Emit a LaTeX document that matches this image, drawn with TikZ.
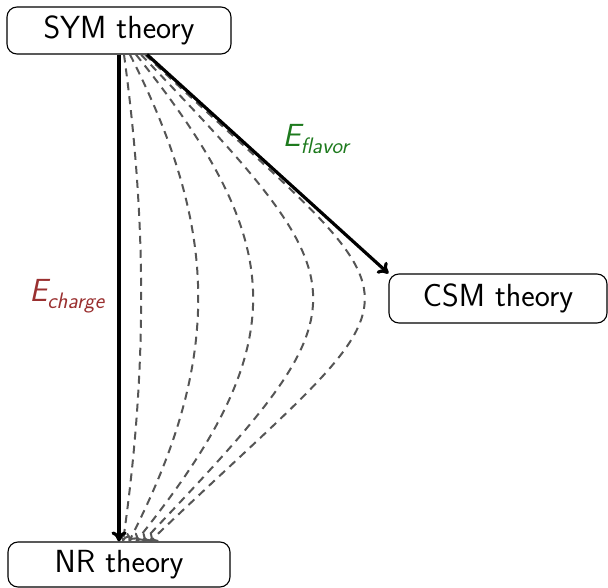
\documentclass[tikz,border=0pt]{standalone}
\usepackage{amsmath}
\usetikzlibrary{calc,arrows.meta}
\definecolor{chargecol}{HTML}{9A3030}
\definecolor{flavorcol}{HTML}{1E7A1E}
\definecolor{dashcol}{HTML}{555555}
\begin{document}
\begin{tikzpicture}[x=1pt,y=-1pt,
  theorybox/.style={draw, rounded corners=10pt, line width=1.1pt, minimum width=#1, minimum height=47pt, inner sep=0pt, font=\fontsize{32}{38}\selectfont\sffamily},
  solidarrow/.style={line width=3.2pt, -{To[length=10pt,width=15pt]}},
  dasharrow/.style={dashcol, line width=2pt, dash pattern=on 8pt off 6pt, -{To[length=7pt,width=12pt]}},
  lab/.style={font=\fontsize{32}{38}\selectfont\sffamily\itshape}]
\useasboundingbox (0,0) rectangle (608,588);
\node[theorybox=224pt] (sym) at (119,30.5) {SYM theory};
\node[theorybox=222pt, minimum height=45pt] (nr) at (119,564.5) {NR theory};
\node[theorybox=218pt, minimum height=49pt] (csm) at (498,298.5) {CSM theory};
% dashed curves
\draw[dasharrow] ([xshift=5pt]sym.south) .. controls (147,224) and (147,372) .. ([xshift=4pt]nr.north);
\draw[dasharrow] ([xshift=11pt]sym.south) .. controls (221,234) and (221,362) .. ([xshift=10pt]nr.north);
\draw[dasharrow] ([xshift=17pt]sym.south) .. controls (292,249) and (292,347) .. ([xshift=17pt]nr.north);
\draw[dasharrow] ([xshift=22pt]sym.south) .. controls (370,294) and (370,302) .. ([xshift=24pt]nr.north);
\draw[dasharrow] ([xshift=26pt]sym.south) .. controls (437,329) and (437,267) .. ([xshift=31pt]nr.north);
% solid arrows
\draw[solidarrow] (sym.south) -- (nr.north);
\draw[solidarrow] ([xshift=28pt]sym.south) -- (csm.north west);
% labels
\node[lab, text=chargecol] (ech) at (67,296) {E$_{\text{charge}}$};
\node[lab, text=flavorcol] (efl) at (316,139) {E$_{\text{flavor}}$};
\end{tikzpicture}
\end{document}
